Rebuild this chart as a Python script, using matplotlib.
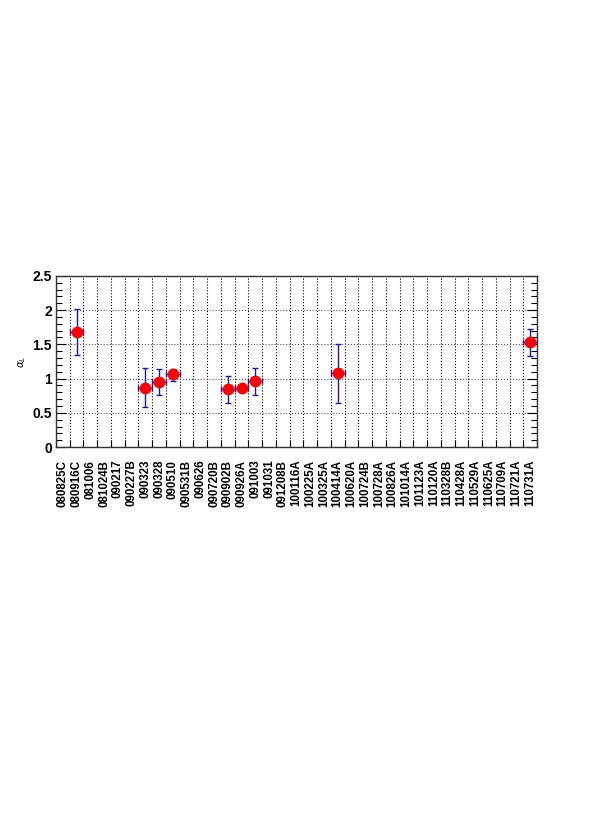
import numpy as np
import matplotlib.pyplot as plt
from matplotlib.ticker import MultipleLocator, FixedLocator

plt.rcParams['font.family'] = ['Liberation Sans', 'DejaVu Sans']

# --------------------------
# Datos
# --------------------------
grbs = ["080825C", "080916C", "081006", "081024B", "090217", "090227B",
        "090323", "090328", "090510", "090531B", "090626", "090720B",
        "090902B", "090926A", "091003", "091031", "091208B", "100116A",
        "100225A", "100325A", "100414A", "100620A", "100724B", "100728A",
        "100826A", "101014A", "101123A", "110120A", "110328B", "110428A",
        "110529A", "110625A", "110709A", "110721A", "110731A"]

grb_pts = ["080916C", "090323", "090328", "090510", "090902B", "090926A",
           "091003", "100414A", "110731A"]
alpha = [1.68, 0.87, 0.95, 1.06, 0.85, 0.86, 0.96, 1.08, 1.53]
err_lo = [0.34, 0.29, 0.19, 0.09, 0.20, 0.02, 0.20, 0.43, 0.20]
err_hi = [0.33, 0.29, 0.19, 0.08, 0.19, 0.02, 0.20, 0.43, 0.19]

# --------------------------
# Figura
# --------------------------
fig = plt.figure(figsize=(5.98, 8.25), dpi=100)
ax = fig.add_axes([0.0936, 0.458, 0.8044, 0.2077])

xpos = [grbs.index(g) for g in grb_pts]
ax.errorbar(xpos, alpha, yerr=[err_lo, err_hi], xerr=0.5, fmt='none',
            ecolor='#1a1aa0', elinewidth=1.0, capsize=2.5, capthick=1.0, zorder=3)
ax.plot(xpos, alpha, 'o', color='#ff0000', markersize=7.5, zorder=4)

ax.set_xlim(-0.5, len(grbs) - 0.5)
ax.set_ylim(0, 2.5)

ax.set_xticks(range(len(grbs)))
ax.set_xticklabels(grbs, rotation=90, fontsize=8.3, fontweight='bold')
ax.xaxis.set_minor_locator(FixedLocator(np.arange(-0.5, len(grbs), 1.0)))
ax.tick_params(axis='x', which='major', length=0, pad=9)
ax.tick_params(axis='x', which='minor', direction='in', length=5, width=0.8,
               bottom=True, top=False)

ax.yaxis.set_minor_locator(MultipleLocator(0.1))
ax.set_yticks([0, 0.5, 1, 1.5, 2, 2.5])
ax.set_yticklabels(["0", "0.5", "1", "1.5", "2", "2.5"], fontsize=10, fontweight='bold')
ax.tick_params(axis='y', which='major', direction='in', length=7, width=0.8,
               left=True, right=True, pad=3)
ax.tick_params(axis='y', which='minor', direction='in', length=4, width=0.8,
               left=True, right=True)

ax.grid(True, axis='x', which='minor', linestyle=':', color='black', linewidth=0.8)
ax.grid(True, axis='y', which='major', linestyle=':', color='#555555', linewidth=0.8)

for s in ax.spines.values():
    s.set_color('#333333')
    s.set_linewidth(1.0)

ax.set_ylabel(r"$\alpha_L$", fontsize=7.5, labelpad=3)

fig.savefig("out.png", dpi=100)
